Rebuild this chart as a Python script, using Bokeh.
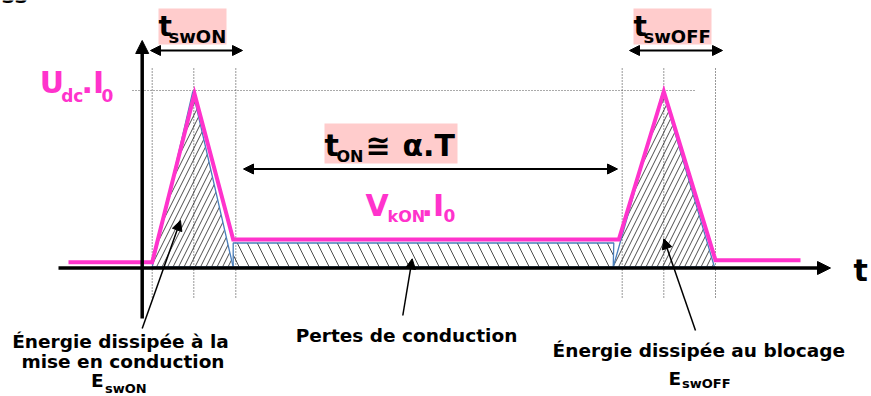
from bokeh.plotting import figure
from bokeh.models import Range1d, Arrow, NormalHead
from bokeh.core.properties import value
from bokeh.embed import file_html
from bokeh.resources import INLINE

# ---- data (time units along t, power units along p; origin at the axes' crossing) ----
# dissipated power p(t) of the switch (pink curve)
wave_t = [-75, 8.7, 51, 89.7, 475.3, 520.3, 572, 657]
wave_p = [5, 5, 173.4, 27.7, 27.7, 175.7, 7, 7]
# switching-on energy triangle
eon_t = [8.7, 49.3, 89.7]
eon_p = [0, 175.7, 0]
# conduction losses area
cond_t = [89.7, 89.7, 470.3, 469.7]
cond_p = [0, 24.2, 24.2, 0]
# switching-off energy triangle
eoff_t = [469.7, 519.3, 571]
eoff_p = [0, 175.7, 0]
# characteristic instants (dotted guides) and peak level
guide_t = [8.7, 50.3, 92.3, 478.7, 520.3, 572]
peak_level = 176.7

FONT = "DejaVu Sans"
PINK = "#FF33CC"
BLUE = "#4A7EBB"
BOXC = "#FFCCCC"

p = figure(width=871, height=396, x_range=Range1d(-143, 728), y_range=Range1d(-129.3, 266.7),
           output_backend="svg", toolbar_location=None, min_border=0,
           x_axis_type=None, y_axis_type=None)
p.grid.visible = False
p.outline_line_color = None
p.background_fill_color = "white"

# label boxes
p.quad(left=[15, 490, 181], right=[83, 568, 314], bottom=[222.7, 222.7, 103.7],
       top=[258.7, 258.7, 143.7], fill_color=BOXC, line_color=None)

# dotted guides
for gt in guide_t:
    p.line([gt, gt], [198.7, -30.3], line_color="#333333", line_dash="1 2", line_width=1)
p.line([-11, 552], [peak_level, peak_level], line_color="#555555", line_dash="1 2", line_width=1)

# hatched energy areas
p.patch(eon_t, eon_p, fill_color=None, line_color=None, hatch_pattern="right_diagonal_line",
        hatch_scale=11, hatch_color="black", hatch_weight=0.7)
p.patch(eoff_t, eoff_p, fill_color=None, line_color=None, hatch_pattern="right_diagonal_line",
        hatch_scale=11, hatch_color="black", hatch_weight=0.7)
p.patch(cond_t, cond_p, fill_color=None, line_color=None, hatch_pattern="left_diagonal_line",
        hatch_scale=20, hatch_color="black", hatch_weight=0.7)

# axes
p.add_layout(Arrow(end=NormalHead(size=13, fill_color="black", line_color="black"),
                   x_start=-1.3, y_start=-51.3, x_end=-1.3, y_end=226.7,
                   line_color="black", line_width=3.5))
p.add_layout(Arrow(end=NormalHead(size=13, fill_color="black", line_color="black"),
                   x_start=-85, y_start=-0.8, x_end=687, y_end=-0.8,
                   line_color="black", line_width=3.5))

# blue outlines
p.line(eon_t, eon_p, line_color=BLUE, line_width=1.3)
p.line(eoff_t, eoff_p, line_color=BLUE, line_width=1.3)
p.line(cond_t, cond_p, line_color=BLUE, line_width=1.3)
p.line([eon_t[0], eoff_t[-1]], [0.4, 0.4], line_color=BLUE, line_width=1.3)

# power curve
p.line(wave_t, wave_p, line_color=PINK, line_width=4, line_join="miter")

# dimension arrows
def dim(x0, x1, y):
    p.add_layout(Arrow(start=NormalHead(size=10, fill_color="black", line_color="black"),
                       end=NormalHead(size=10, fill_color="black", line_color="black"),
                       x_start=x0, y_start=y, x_end=x1, y_end=y, line_color="black", line_width=2))

dim(7, 99, 216.7)
dim(486, 579, 216.7)
dim(100, 474, 98.2)

# pointer arrows
def ptr(x0, y0, x1, y1):
    p.add_layout(Arrow(end=NormalHead(size=10, fill_color="black", line_color="black"),
                       x_start=x0, y_start=y0, x_end=x1, y_end=y1, line_color="black", line_width=1.5))

ptr(-1.3, -61.3, 37, 46.7)
ptr(259.3, -48.3, 268.7, 8.4)
ptr(552, -63.3, 520.3, 28.4)

BASE_SHIFT = 0.385  # compensation of the svg text baseline, in em

def txt(x, y, s, size, color="black", align="left"):
    p.text(x=[x], y=[y + BASE_SHIFT * size], text=[s], text_font=value(FONT), text_font_style="bold",
           text_font_size=value(f"{size}px"), text_color=color, text_align=align,
           text_baseline="alphabetic")

# cut-off text at the very top-left of the original slide
txt(-142, 263.2, "ss", 22)

# t_swON / t_swOFF / t_ON
txt(15, 230, "t", 28)
txt(25, 223.4, "swON", 18)
txt(490, 230, "t", 28)
txt(500, 223.4, "swOFF", 18)
txt(181, 110, "t", 30)
txt(193, 105, "ON", 16)
txt(222, 110, "≅", 30)
txt(259, 110, "α.T", 30)

# Udc.I0
txt(-103.7, 173.4, "U", 30, PINK)
txt(-82.3, 165, "dc", 17, PINK)
txt(-62, 173.4, ".I", 30, PINK)
txt(-42, 165, "0", 17, PINK)

# VkON.I0
txt(222, 50, "V", 30, PINK)
txt(244, 45, "kON", 16, PINK)
txt(278, 50, ".I", 30, PINK)
txt(300, 45, "0", 17, PINK)

# axis label
txt(710, -15, "t", 30)

# annotations
txt(-23, -81.6, "Énergie dissipée à la", 18.5, align="center")
txt(-20.5, -101.6, "mise en conduction", 18.5, align="center")
txt(-52.5, -120, "E", 18.5)
txt(-38.5, -126.3, "swON", 13)
txt(263, -75, "Pertes de conduction", 18.5, align="center")
txt(555.3, -90, "Énergie dissipée au blocage", 18.5, align="center")
txt(525, -118.3, "E", 18.5)
txt(538.5, -121.6, "swOFF", 13)

open("out.html", "w").write(file_html(p, INLINE))
